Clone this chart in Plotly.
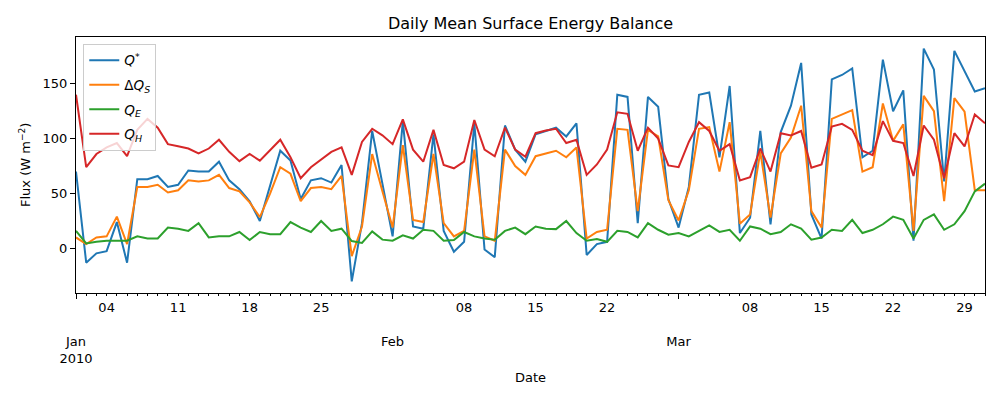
import pandas as pd
import plotly.graph_objects as go

dates = pd.date_range("2010-01-01", periods=90, freq="D")

q_star = [70, -13, -4.5, -2.5, 24, -13, 63, 63, 66, 56,
          58, 71, 70, 70, 79, 62, 54, 43, 25, 57,
          89, 80, 45, 62, 64, 60, 76, -30, 23, 107,
          60, 11, 116, 20, 18, 104, 16, -3, 6, 114,
          -1, -8, 112, 90, 79, 104, 107, 110, 102, 114,
          -6, 4, 6, 140, 138, 23, 138, 129, 45, 19,
          56, 140, 142, 83, 148, 14, 28, 107, 22, 106,
          130, 169, 31, 9, 154, 158, 164, 83, 89, 172,
          125, 144, 7, 182, 163, 61, 180, 162, 143, 146]

dqs = [10, 4, 10, 11, 29, 4, 56, 56, 58, 51,
       53, 62, 61, 62, 67, 55, 52, 42, 28.5, 50,
       74, 68, 43, 55, 56, 54, 66, -7, 20, 86,
       52, 19, 94, 26, 24, 86, 23, 11, 16, 90,
       11, 7, 90, 75, 67, 84, 86.5, 89, 83, 92,
       9, 15, 17, 109, 108, 34, 108, 102, 44, 25.5,
       53, 109, 110.5, 70, 115, 22.5, 31, 88, 28, 86.5,
       101, 130, 34, 19, 118, 122, 126, 70, 74, 132,
       98, 113, 16, 139, 125, 43, 137, 124.5, 53, 53]

q_e = [16, 4.5, 6, 7, 7, 7, 11, 9, 9, 19,
       18, 16, 23, 10, 11, 11, 15, 7.6, 15, 13,
       13, 24, 19, 15, 25, 16, 18, 6.7, 5, 15.5,
       8, 7, 12, 9, 17, 16, 7, 7.6, 15, 11,
       9, 8, 16, 19, 13, 20, 18, 17.6, 25, 14,
       7, 8.5, 6, 16, 15, 10, 23, 17, 12.5, 14,
       11, 16, 21, 15, 17, 7, 20, 18, 13, 15,
       22, 18, 8, 10, 17, 16, 26, 14, 17, 22,
       29, 26, 9, 26, 31, 17, 22, 34, 52, 59]

q_h = [140, 74, 86, 92, 96, 84, 108, 118, 110, 95,
       93, 91, 86.5, 91, 99, 88, 79.5, 86, 80, 90,
       99, 83, 64, 74, 81, 88, 92, 67, 97, 109,
       103, 95, 117.5, 90, 79, 108, 76, 73, 79, 117,
       90, 84, 110, 90, 83.5, 105, 107.5, 109, 96, 99,
       67, 76.5, 90, 124, 122.6, 89, 110, 100, 75.6, 74,
       97, 115, 107, 89, 95, 62, 65, 91, 70, 105,
       103, 107, 73.5, 76.5, 111, 113.5, 108, 89, 85, 116,
       98, 96, 66, 112, 99, 64, 105, 93, 122, 114]

series_names = ["<i>Q</i><sup>*</sup>", "Δ<i>Q<sub>S</sub></i>",
                "<i>Q<sub>E</sub></i>", "<i>Q<sub>H</sub></i>"]
series_vals = [q_star, dqs, q_e, q_h]
colors = ["#1f77b4", "#ff7f0e", "#2ca02c", "#d62728"]

month_ticks = ["2010-01-01", "2010-02-01", "2010-03-01"]
month_labels = ["Jan<br>2010", "Feb", "Mar"]
week_ticks = ["2010-01-04", "2010-01-11", "2010-01-18", "2010-01-25",
              "2010-02-08", "2010-02-15", "2010-02-22",
              "2010-03-08", "2010-03-15", "2010-03-22", "2010-03-29"]
week_labels = ["04", "11", "18", "25", "08", "15", "22", "08", "15", "22", "29"]

FONT = "DejaVu Sans"
fig = go.Figure()
for i, (name, vals, c) in enumerate(zip(series_names, series_vals, colors)):
    fig.add_trace(go.Scatter(x=dates, y=vals, mode="lines", name=name,
                             legendgroup=f"g{i}",
                             line=dict(color=c, width=2)))
# helper trace for the week-label axis
fig.add_trace(go.Scatter(x=[dates[0]], y=[None], xaxis="x2", showlegend=False,
                         hoverinfo="skip", mode="lines"))

xr = [dates[0], dates[-1]]
fig.update_layout(
    width=1000, height=400,
    margin=dict(l=76, r=15, t=37, b=107),
    paper_bgcolor="white", plot_bgcolor="white",
    font=dict(family=FONT, size=13, color="black"),
    title=dict(text="Daily Mean Surface Energy Balance", x=0.5, xref="paper",
               y=1 - 23 / 400, yanchor="middle", font=dict(size=16)),
    showlegend=True,
    legend=dict(x=0.008, y=0.973, xanchor="left", yanchor="top",
                bgcolor="rgba(255,255,255,0.8)", bordercolor="#cccccc",
                borderwidth=1, font=dict(size=13.5), tracegroupgap=4),
    xaxis=dict(type="date", range=xr, tickvals=month_ticks, ticktext=month_labels,
               ticks="outside", ticklen=5, tickcolor="black", showline=True,
               linecolor="black", linewidth=1, mirror=True, showgrid=False,
               zeroline=False, ticklabelstandoff=31,
               minor=dict(dtick=86400000, tick0="2010-01-01", ticks="outside",
                          ticklen=2, tickcolor="black", showgrid=False)),
    xaxis2=dict(type="date", range=xr, overlaying="x", anchor="y", side="bottom",
                tickvals=week_ticks, ticktext=week_labels, ticks="outside",
                ticklen=2, tickcolor="black", showline=False, showgrid=False,
                zeroline=False),
    yaxis=dict(range=[-40.6, 192.6], tickvals=[0, 50, 100, 150], ticks="outside",
               ticklen=5, tickcolor="black", showline=True, linecolor="black",
               linewidth=1, mirror=True, showgrid=False, zeroline=False),
    annotations=[
        dict(text="Date", x=0.5, y=(293 - 377) / 256, xref="paper", yref="paper",
             showarrow=False, font=dict(size=13), xanchor="center", yanchor="middle"),
        dict(text="Flux (W m<sup>−2</sup>)", x=-(76 - 25) / 909, y=0.5, xref="paper",
             yref="paper", showarrow=False, textangle=-90, font=dict(size=13),
             xanchor="center", yanchor="middle"),
    ],
)

fig.write_html("out.html")
